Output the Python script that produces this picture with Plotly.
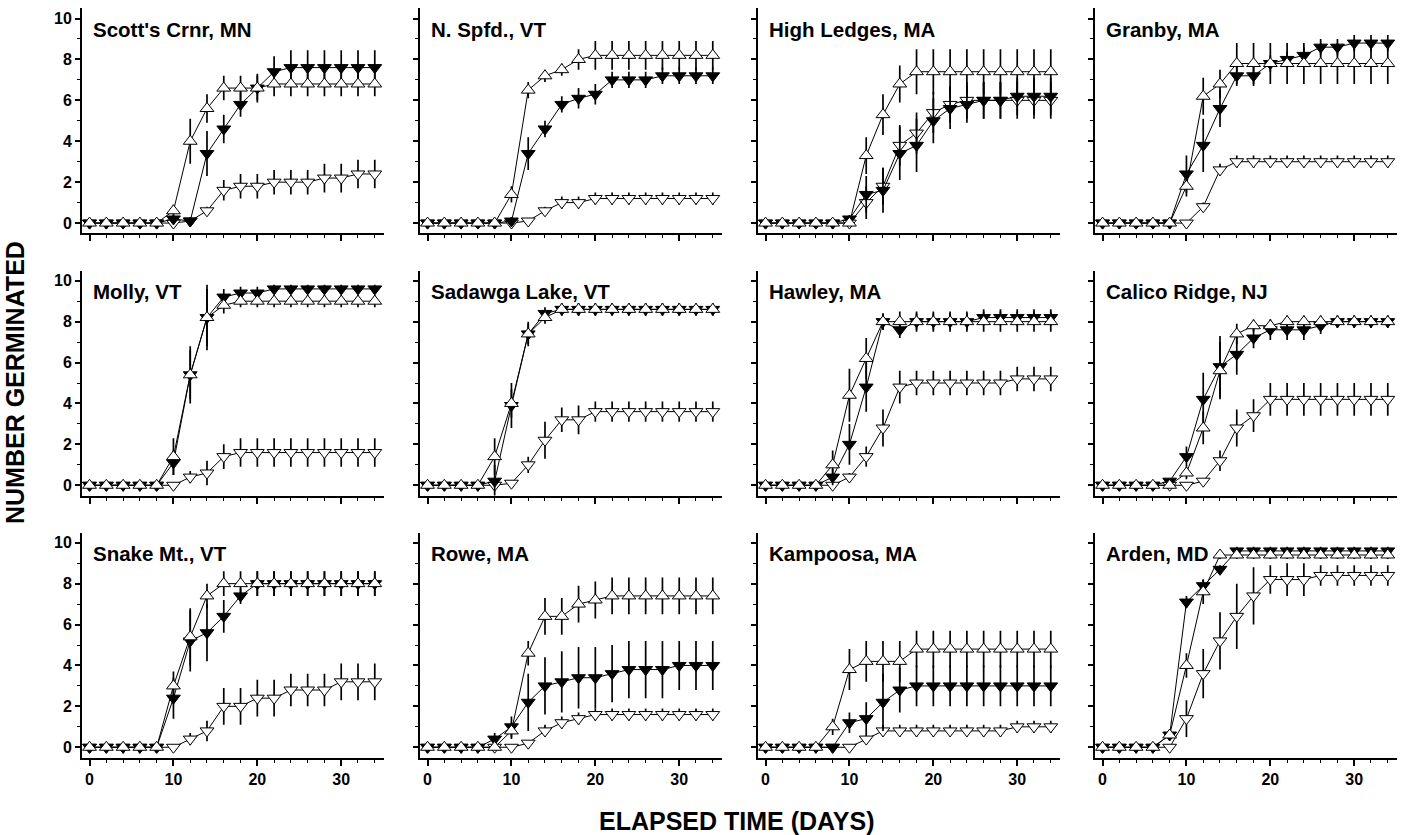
import plotly.graph_objects as go

DAYS = [0, 2, 4, 6, 8, 10, 12, 14, 16, 18, 20, 22, 24, 26, 28, 30, 32, 34]

SITES = ["Scott's Crnr, MN", "N. Spfd., VT", "High Ledges, MA", "Granby, MA",
         "Molly, VT", "Sadawga Lake, VT", "Hawley, MA", "Calico Ridge, NJ",
         "Snake Mt., VT", "Rowe, MA", "Kampoosa, MA", "Arden, MD"]

X_TICKS = [0, 10, 20, 30]
Y_TICKS = [0, 2, 4, 6, 8, 10]
X_TITLE = "ELAPSED TIME (DAYS)"
Y_TITLE = "NUMBER GERMINATED"

# ---- Scott's Crnr, MN
scott_up = [0, 0, 0, 0, 0, 0.6, 4.0, 5.6, 6.6, 6.6, 6.6, 6.8, 6.8, 6.8, 6.8, 6.8, 6.8, 6.8]
scott_up_err = [0, 0, 0, 0, 0, 0.3, 1.1, 0.7, 0.6, 0.6, 0.7, 0.6, 0.6, 0.6, 0.6, 0.6, 0.6, 0.6]
scott_fill = [0, 0, 0, 0, 0, 0.2, 0.1, 3.4, 4.6, 5.8, 6.6, 7.4, 7.6, 7.6, 7.6, 7.6, 7.6, 7.6]
scott_fill_err = [0, 0, 0, 0, 0, 0.2, 0.2, 1.1, 0.7, 0.6, 0.6, 0.75, 0.85, 0.85, 0.85, 0.85, 0.85, 0.85]
scott_dn = [0, 0, 0, 0, 0, 0, 0.1, 0.6, 1.6, 1.8, 1.8, 2.0, 2.0, 2.0, 2.2, 2.2, 2.4, 2.4]
scott_dn_err = [0, 0, 0, 0, 0, 0, 0, 0.2, 0.5, 0.6, 0.6, 0.6, 0.6, 0.6, 0.7, 0.7, 0.7, 0.7]

# ---- N. Spfd., VT
nspfd_up = [0, 0, 0, 0, 0, 1.4, 6.5, 7.2, 7.5, 8.0, 8.2, 8.2, 8.2, 8.2, 8.2, 8.2, 8.2, 8.2]
nspfd_up_err = [0, 0, 0, 0, 0, 0.4, 0.4, 0.3, 0.3, 0.5, 0.7, 0.7, 0.7, 0.7, 0.7, 0.7, 0.7, 0.7]
nspfd_fill = [0, 0, 0, 0, 0, 0.1, 3.4, 4.6, 5.8, 6.1, 6.3, 7.0, 7.0, 7.0, 7.2, 7.2, 7.2, 7.2]
nspfd_fill_err = [0, 0, 0, 0, 0, 0.2, 0.8, 0.4, 0.4, 0.5, 0.5, 0.4, 0.4, 0.4, 0.4, 0.4, 0.4, 0.4]
nspfd_dn = [0, 0, 0, 0, 0, 0, 0.1, 0.6, 1.0, 1.0, 1.2, 1.2, 1.2, 1.2, 1.2, 1.2, 1.2, 1.2]
nspfd_dn_err = [0, 0, 0, 0, 0, 0, 0.1, 0.2, 0.3, 0.3, 0.3, 0.3, 0.3, 0.3, 0.3, 0.3, 0.3, 0.3]

# ---- High Ledges, MA
ledges_up = [0, 0, 0, 0, 0, 0, 3.3, 5.3, 6.8, 7.4, 7.4, 7.4, 7.4, 7.4, 7.4, 7.4, 7.4, 7.4]
ledges_up_err = [0, 0, 0, 0, 0, 0.1, 0.9, 1.0, 0.9, 1.1, 1.1, 1.1, 1.1, 1.1, 1.1, 1.1, 1.1, 1.1]
ledges_fill = [0, 0, 0, 0, 0, 0.2, 1.4, 1.6, 3.4, 3.8, 5.0, 5.6, 5.8, 6.0, 6.0, 6.2, 6.2, 6.2]
ledges_fill_err = [0, 0, 0, 0, 0, 0.2, 0.9, 1.1, 1.3, 1.3, 1.1, 1.0, 0.9, 0.9, 0.9, 0.9, 0.9, 0.9]
ledges_dn = [0, 0, 0, 0, 0, 0, 1.0, 1.8, 3.8, 4.4, 5.4, 5.8, 6.0, 6.0, 6.0, 6.0, 6.0, 6.0]
ledges_dn_err = [0, 0, 0, 0, 0, 0, 0.8, 0.9, 1.0, 1.0, 1.0, 0.9, 0.9, 0.9, 0.9, 0.9, 0.9, 0.9]

# ---- Granby, MA
granby_up = [0, 0, 0, 0, 0, 1.8, 6.2, 6.8, 7.8, 7.8, 7.8, 7.8, 7.8, 7.8, 7.8, 7.8, 7.8, 7.8]
granby_up_err = [0, 0, 0, 0, 0, 0.5, 0.9, 0.7, 1.0, 1.0, 1.0, 1.0, 1.0, 1.0, 1.0, 1.0, 1.0, 1.0]
granby_fill = [0, 0, 0, 0, 0, 2.4, 3.8, 5.6, 7.2, 7.2, 7.8, 8.0, 8.2, 8.6, 8.6, 8.8, 8.8, 8.8]
granby_fill_err = [0, 0, 0, 0, 0, 0.9, 1.3, 0.9, 0.5, 0.5, 0.4, 0.4, 0.4, 0.4, 0.4, 0.4, 0.4, 0.4]
granby_dn = [0, 0, 0, 0, 0, 0, 0.8, 2.6, 3.0, 3.0, 3.0, 3.0, 3.0, 3.0, 3.0, 3.0, 3.0, 3.0]
granby_dn_err = [0, 0, 0, 0, 0, 0, 0.2, 0.3, 0.3, 0.3, 0.3, 0.3, 0.3, 0.3, 0.3, 0.3, 0.3, 0.3]

# ---- Molly, VT
molly_up = [0, 0, 0, 0, 0, 1.4, 5.4, 8.2, 8.8, 9.0, 9.0, 9.0, 9.0, 9.0, 9.0, 9.0, 9.0, 9.0]
molly_up_err = [0, 0, 0, 0, 0, 0.9, 1.4, 1.6, 0.4, 0.3, 0.3, 0.3, 0.3, 0.3, 0.3, 0.3, 0.3, 0.3]
molly_fill = [0, 0, 0, 0, 0, 1.1, 5.4, 8.2, 9.2, 9.4, 9.4, 9.6, 9.6, 9.6, 9.6, 9.6, 9.6, 9.6]
molly_fill_err = [0, 0, 0, 0, 0, 0.6, 1.2, 1.4, 0.4, 0.3, 0.3, 0.2, 0.2, 0.2, 0.2, 0.2, 0.2, 0.2]
molly_dn = [0, 0, 0, 0, 0, 0, 0.4, 0.6, 1.4, 1.6, 1.6, 1.6, 1.6, 1.6, 1.6, 1.6, 1.6, 1.6]
molly_dn_err = [0, 0, 0, 0, 0, 0, 0.3, 0.6, 0.6, 0.7, 0.7, 0.7, 0.7, 0.7, 0.7, 0.7, 0.7, 0.7]

# ---- Sadawga Lake, VT
sadawga_up = [0, 0, 0, 0, 1.4, 4.0, 7.4, 8.2, 8.6, 8.6, 8.6, 8.6, 8.6, 8.6, 8.6, 8.6, 8.6, 8.6]
sadawga_up_err = [0, 0, 0, 0, 0.9, 0.7, 0.5, 0.3, 0.3, 0.3, 0.3, 0.3, 0.3, 0.3, 0.3, 0.3, 0.3, 0.3]
sadawga_fill = [0, 0, 0, 0, 0.2, 3.9, 7.4, 8.4, 8.6, 8.6, 8.6, 8.6, 8.6, 8.6, 8.6, 8.6, 8.6, 8.6]
sadawga_fill_err = [0, 0, 0, 0, 0.8, 1.1, 0.6, 0.3, 0.3, 0.3, 0.3, 0.3, 0.3, 0.3, 0.3, 0.3, 0.3, 0.3]
sadawga_dn = [0, 0, 0, 0, 0, 0.1, 1.0, 2.2, 3.2, 3.2, 3.6, 3.6, 3.6, 3.6, 3.6, 3.6, 3.6, 3.6]
sadawga_dn_err = [0, 0, 0, 0, 0, 0.1, 0.4, 0.9, 0.6, 0.7, 0.5, 0.5, 0.5, 0.5, 0.5, 0.5, 0.5, 0.5]

# ---- Hawley, MA
hawley_up = [0, 0, 0, 0, 1.0, 4.4, 6.2, 8.0, 8.0, 8.0, 8.0, 8.0, 8.0, 8.0, 8.0, 8.0, 8.0, 8.0]
hawley_up_err = [0, 0, 0, 0, 0.7, 1.3, 1.0, 0.4, 0.5, 0.5, 0.5, 0.5, 0.5, 0.5, 0.5, 0.5, 0.5, 0.5]
hawley_fill = [0, 0, 0, 0, 0.4, 2.0, 4.8, 8.0, 7.6, 8.0, 8.0, 8.0, 8.0, 8.2, 8.2, 8.2, 8.2, 8.2]
hawley_fill_err = [0, 0, 0, 0, 0.4, 1.0, 1.2, 0.4, 0.4, 0.4, 0.4, 0.4, 0.4, 0.4, 0.4, 0.4, 0.4, 0.4]
hawley_dn = [0, 0, 0, 0, 0, 0.4, 1.4, 2.8, 4.8, 5.0, 5.0, 5.0, 5.0, 5.0, 5.0, 5.2, 5.2, 5.2]
hawley_dn_err = [0, 0, 0, 0, 0, 0.2, 0.5, 0.9, 0.8, 0.6, 0.6, 0.6, 0.6, 0.6, 0.6, 0.6, 0.6, 0.6]

# ---- Calico Ridge, NJ
calico_up = [0, 0, 0, 0, 0, 0.6, 2.8, 5.6, 7.4, 7.8, 7.8, 8.0, 8.0, 8.0, 8.0, 8.0, 8.0, 8.0]
calico_up_err = [0, 0, 0, 0, 0, 0.3, 0.8, 1.4, 0.5, 0.3, 0.3, 0.3, 0.3, 0.3, 0.3, 0.3, 0.3, 0.3]
calico_fill = [0, 0, 0, 0, 0.2, 1.4, 4.2, 5.8, 6.4, 7.2, 7.6, 7.6, 7.6, 7.8, 8.0, 8.0, 8.0, 8.0]
calico_fill_err = [0, 0, 0, 0, 0.1, 0.5, 1.3, 1.5, 1.0, 0.5, 0.5, 0.5, 0.5, 0.4, 0.3, 0.3, 0.3, 0.3]
calico_dn = [0, 0, 0, 0, 0, 0, 0.2, 1.2, 2.8, 3.4, 4.2, 4.2, 4.2, 4.2, 4.2, 4.2, 4.2, 4.2]
calico_dn_err = [0, 0, 0, 0, 0, 0, 0.1, 0.5, 0.9, 0.8, 0.8, 0.8, 0.8, 0.8, 0.8, 0.8, 0.8, 0.8]

# ---- Snake Mt., VT
snake_up = [0, 0, 0, 0, 0, 3.0, 5.4, 7.4, 8.0, 8.0, 8.0, 8.0, 8.0, 8.0, 8.0, 8.0, 8.0, 8.0]
snake_up_err = [0, 0, 0, 0, 0, 0.7, 1.4, 0.6, 0.6, 0.6, 0.6, 0.6, 0.6, 0.6, 0.6, 0.6, 0.6, 0.6]
snake_fill = [0, 0, 0, 0, 0, 2.4, 5.2, 5.6, 6.4, 7.4, 8.0, 8.0, 8.0, 8.0, 8.0, 8.0, 8.0, 8.0]
snake_fill_err = [0, 0, 0, 0, 0, 1.0, 1.5, 1.4, 0.8, 0.4, 0.6, 0.6, 0.6, 0.6, 0.6, 0.6, 0.6, 0.6]
snake_dn = [0, 0, 0, 0, 0, 0, 0.4, 0.8, 2.0, 2.0, 2.4, 2.4, 2.8, 2.8, 2.8, 3.2, 3.2, 3.2]
snake_dn_err = [0, 0, 0, 0, 0, 0, 0.3, 0.5, 0.9, 0.9, 0.9, 0.9, 0.8, 0.8, 0.8, 0.9, 0.9, 0.9]

# ---- Rowe, MA
rowe_up = [0, 0, 0, 0, 0, 0.8, 4.6, 6.4, 6.4, 7.0, 7.2, 7.4, 7.4, 7.4, 7.4, 7.4, 7.4, 7.4]
rowe_up_err = [0, 0, 0, 0, 0, 0.4, 0.6, 0.9, 0.9, 0.9, 0.9, 0.9, 0.9, 0.9, 0.9, 0.9, 0.9, 0.9]
rowe_fill = [0, 0, 0, 0, 0.4, 1.0, 2.2, 3.0, 3.2, 3.4, 3.4, 3.6, 3.8, 3.8, 3.8, 4.0, 4.0, 4.0]
rowe_fill_err = [0, 0, 0, 0, 0.3, 0.5, 1.4, 1.4, 1.5, 1.5, 1.5, 1.4, 1.4, 1.4, 1.4, 1.2, 1.2, 1.2]
rowe_dn = [0, 0, 0, 0, 0, 0, 0.2, 0.8, 1.2, 1.4, 1.6, 1.6, 1.6, 1.6, 1.6, 1.6, 1.6, 1.6]
rowe_dn_err = [0, 0, 0, 0, 0, 0, 0.1, 0.3, 0.3, 0.3, 0.3, 0.3, 0.3, 0.3, 0.3, 0.3, 0.3, 0.3]

# ---- Kampoosa, MA
kamp_up = [0, 0, 0, 0, 1.0, 3.8, 4.2, 4.2, 4.2, 4.8, 4.8, 4.8, 4.8, 4.8, 4.8, 4.8, 4.8, 4.8]
kamp_up_err = [0, 0, 0, 0, 0.4, 1.0, 1.0, 1.0, 1.0, 0.9, 0.9, 0.9, 0.9, 0.9, 0.9, 0.9, 0.9, 0.9]
kamp_fill = [0, 0, 0, 0, 0, 1.2, 1.4, 2.2, 2.8, 3.0, 3.0, 3.0, 3.0, 3.0, 3.0, 3.0, 3.0, 3.0]
kamp_fill_err = [0, 0, 0, 0, 0, 0.5, 0.8, 1.4, 1.1, 1.0, 1.0, 1.0, 1.0, 1.0, 1.0, 1.0, 1.0, 1.0]
kamp_dn = [0, 0, 0, 0, 0, 0, 0.4, 0.8, 0.8, 0.8, 0.8, 0.8, 0.8, 0.8, 0.8, 1.0, 1.0, 1.0]
kamp_dn_err = [0, 0, 0, 0, 0, 0, 0.2, 0.3, 0.3, 0.3, 0.3, 0.3, 0.3, 0.3, 0.3, 0.3, 0.3, 0.3]

# ---- Arden, MD
arden_up = [0, 0, 0, 0, 0.6, 4.0, 7.6, 9.4, 9.4, 9.4, 9.4, 9.4, 9.4, 9.4, 9.4, 9.4, 9.4, 9.4]
arden_up_err = [0, 0, 0, 0, 0.2, 0.6, 0.6, 0.2, 0.2, 0.2, 0.2, 0.2, 0.2, 0.2, 0.2, 0.2, 0.2, 0.2]
arden_fill = [0, 0, 0, 0, 0.6, 7.1, 7.9, 8.7, 9.6, 9.6, 9.6, 9.6, 9.6, 9.6, 9.6, 9.6, 9.6, 9.6]
arden_fill_err = [0, 0, 0, 0, 0.2, 0.3, 0.3, 0.2, 0.2, 0.2, 0.2, 0.2, 0.2, 0.2, 0.2, 0.2, 0.2, 0.2]
arden_dn = [0, 0, 0, 0, 0, 1.4, 3.6, 5.2, 6.4, 7.4, 8.2, 8.2, 8.2, 8.4, 8.4, 8.4, 8.4, 8.4]
arden_dn_err = [0, 0, 0, 0, 0, 0.9, 1.2, 1.4, 1.6, 1.4, 0.7, 0.8, 0.8, 0.5, 0.5, 0.5, 0.5, 0.5]

PANELS = [
    (scott_up, scott_up_err, scott_fill, scott_fill_err, scott_dn, scott_dn_err),
    (nspfd_up, nspfd_up_err, nspfd_fill, nspfd_fill_err, nspfd_dn, nspfd_dn_err),
    (ledges_up, ledges_up_err, ledges_fill, ledges_fill_err, ledges_dn, ledges_dn_err),
    (granby_up, granby_up_err, granby_fill, granby_fill_err, granby_dn, granby_dn_err),
    (molly_up, molly_up_err, molly_fill, molly_fill_err, molly_dn, molly_dn_err),
    (sadawga_up, sadawga_up_err, sadawga_fill, sadawga_fill_err, sadawga_dn, sadawga_dn_err),
    (hawley_up, hawley_up_err, hawley_fill, hawley_fill_err, hawley_dn, hawley_dn_err),
    (calico_up, calico_up_err, calico_fill, calico_fill_err, calico_dn, calico_dn_err),
    (snake_up, snake_up_err, snake_fill, snake_fill_err, snake_dn, snake_dn_err),
    (rowe_up, rowe_up_err, rowe_fill, rowe_fill_err, rowe_dn, rowe_dn_err),
    (kamp_up, kamp_up_err, kamp_fill, kamp_fill_err, kamp_dn, kamp_dn_err),
    (arden_up, arden_up_err, arden_fill, arden_fill_err, arden_dn, arden_dn_err),
]

# ---------------- layout geometry (pixels) ----------------
W, H = 1402, 835
COL_LEFT = [82, 420, 758, 1095]
PANEL_W = 302
ROW_TOP = [8.3, 270.5, 532.5]
PANEL_H = 225
FONT = "Liberation Sans, Arial, sans-serif"

fig = go.Figure()


def add_series(idx, y, err, symbol, fill):
    sfx = "" if idx == 1 else str(idx)
    fig.add_trace(go.Scatter(
        x=DAYS, y=y, mode="lines+markers",
        xaxis="x" + sfx, yaxis="y" + sfx,
        line=dict(color="black", width=1),
        marker=dict(symbol=symbol, size=12, color=fill,
                    line=dict(color="black", width=1)),
        error_y=dict(type="data", array=err, visible=True, color="black",
                     thickness=1.7, width=0),
        showlegend=False, cliponaxis=False, hoverinfo="x+y"))


annotations = []
for k, (site, data) in enumerate(zip(SITES, PANELS)):
    idx = k + 1
    row, col = divmod(k, 4)
    up, up_err, fill, fill_err, dn, dn_err = data
    add_series(idx, dn, dn_err, "triangle-down", "white")
    add_series(idx, fill, fill_err, "triangle-down", "black")
    add_series(idx, up, up_err, "triangle-up", "white")

    sfx = "" if idx == 1 else str(idx)
    x0 = COL_LEFT[col] / W
    x1 = (COL_LEFT[col] + PANEL_W) / W
    y1 = 1 - ROW_TOP[row] / H
    y0 = 1 - (ROW_TOP[row] + PANEL_H) / H
    fig.layout["xaxis" + sfx] = dict(
        domain=[x0, x1], range=[-0.9, 35.1], anchor="y" + sfx,
        showline=True, linecolor="black", linewidth=2, mirror=False,
        ticks="outside", ticklen=6, tickwidth=1.5, tickcolor="black",
        tickvals=X_TICKS, showticklabels=(row == 2),
        tickfont=dict(family=FONT, size=16, color="black", weight="bold"),
        minor=dict(dtick=2, tick0=0, ticks="outside", ticklen=3,
                   tickwidth=1, tickcolor="black", showgrid=False),
        showgrid=False, zeroline=False, fixedrange=True)
    fig.layout["yaxis" + sfx] = dict(
        domain=[y0, y1], range=[-0.5, 10.5], anchor="x" + sfx,
        showline=True, linecolor="black", linewidth=2,
        ticks="outside", ticklen=5, tickwidth=1.5, tickcolor="black",
        tickvals=Y_TICKS, showticklabels=(col == 0),
        tickfont=dict(family=FONT, size=16, color="black", weight="bold"),
        minor=dict(dtick=1, tick0=0, ticks="outside", ticklen=3,
                   tickwidth=1, tickcolor="black", showgrid=False),
        showgrid=False, zeroline=False, fixedrange=True)
    annotations.append(dict(
        xref="x" + sfx, yref="y" + sfx, x=0.2, y=9.45,
        xanchor="left", yanchor="middle", showarrow=False, text=site,
        font=dict(family=FONT, size=20.5, color="black", weight="bold")))

annotations.append(dict(
    xref="paper", yref="paper", x=15 / W, y=1 - 383 / H,
    xanchor="center", yanchor="middle", showarrow=False, text=Y_TITLE,
    textangle=-90, font=dict(family=FONT, size=25, color="black", weight="bold")))
annotations.append(dict(
    xref="paper", yref="paper", x=737 / W, y=1 - 821 / H,
    xanchor="center", yanchor="middle", showarrow=False, text=X_TITLE,
    font=dict(family=FONT, size=25, color="black", weight="bold")))

fig.update_layout(
    width=W, height=H, margin=dict(l=0, r=0, t=0, b=0),
    paper_bgcolor="white", plot_bgcolor="white",
    annotations=annotations, showlegend=False)

fig.write_html("out.html")
